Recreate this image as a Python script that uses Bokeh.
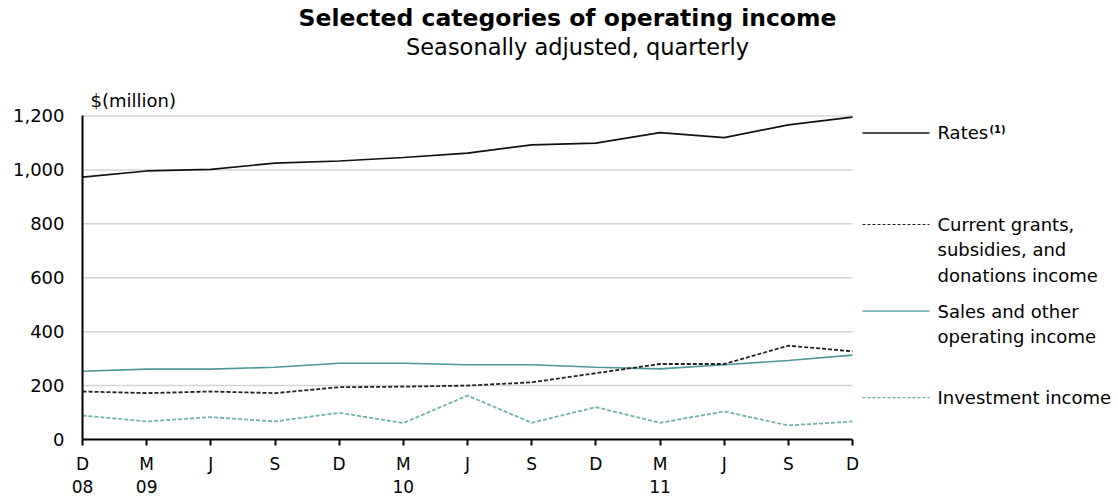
from bokeh.plotting import figure
from bokeh.models import FixedTicker, NumeralTickFormatter, Label, Arrow, Range1d, ColumnDataSource
from bokeh.embed import file_html
from bokeh.resources import INLINE

# ---- data ----
quarters = ["D", "M", "J", "S", "D", "M", "J", "S", "D", "M", "J", "S", "D"]
years = ["08", "09", "", "", "", "10", "", "", "", "11", "", "", ""]
rates = [973, 996, 1002, 1025, 1033, 1046, 1062, 1093, 1099, 1138, 1120, 1167, 1196]
grants = [178, 172, 178, 172, 194, 196, 200, 212, 246, 280, 280, 348, 327]
sales = [253, 261, 261, 268, 283, 283, 277, 277, 268, 262, 277, 293, 313]
investment = [89, 67, 83, 67, 99, 61, 163, 62, 120, 62, 104, 52, 67]
y_ticks = [0, 200, 400, 600, 800, 1000, 1200]

title_text = "Selected categories of operating income"
subtitle_text = "Seasonally adjusted, quarterly"
unit_text = "$(million)"
legend_rates = ["Rates"]
legend_grants = ["Current grants,", "subsidies, and", "donations income"]
legend_sales = ["Sales and other", "operating income"]
legend_invest = ["Investment income"]

FONT = "DejaVu Sans"
TEAL = "#4f9696"
TEAL_LIGHT = "#72b0b0"

idx = list(range(len(quarters)))
x_last = idx[-1]
y_top = y_ticks[-1]
src = ColumnDataSource(dict(x=idx, rates=rates, grants=grants, sales=sales, investment=investment))

# ---- layout (pixels) ----
W, H = 1118, 499
AX_X = 82          # left edge of the plotting area (y axis)
AX_Y = 441         # bottom of the plotting area (x axis)
DATA_W = 770       # pixels covered by the quarters
DATA_H = 325       # pixels covered by 0..1200
PX_PER_X = DATA_W / x_last
PX_PER_Y = DATA_H / y_top
x_end = (W - AX_X) / PX_PER_X
y_end = AX_Y / PX_PER_Y

p = figure(width=W, height=H, output_backend="svg", toolbar_location=None,
           x_range=Range1d(0, x_end), y_range=Range1d(0, y_end),
           min_border_left=AX_X, min_border_right=0,
           min_border_top=0, min_border_bottom=H - AX_Y)
p.outline_line_color = None
p.background_fill_color = "white"
p.border_fill_color = "white"

def dx(xpage):
    return (xpage - AX_X) / PX_PER_X
def dy(ypage):
    return (AX_Y - ypage) / PX_PER_Y

# ---- grid lines (limited to the data area) ----
p.xgrid.grid_line_color = None
p.ygrid.grid_line_color = None
gl = [t for t in y_ticks if t > 0]
p.segment(x0=[0] * len(gl), y0=gl, x1=[x_last] * len(gl), y1=gl, line_color="#d4d4d4", line_width=1.5)

# ---- series ----
p.line("x", "rates", source=src, line_color="#111111", line_width=1.7)
p.line("x", "sales", source=src, line_color=TEAL, line_width=1.6)
p.line("x", "grants", source=src, line_color="#222222", line_width=1.8, line_dash="4 2")
p.line("x", "investment", source=src, line_color=TEAL_LIGHT, line_width=1.8, line_dash="4 2")

# ---- axes ----
xa = p.xaxis[0]
xa.ticker = FixedTicker(ticks=idx)
xa.bounds = (0, x_last)
xa.major_label_overrides = {i: (q + "\n" + y if y else q) for i, (q, y) in enumerate(zip(quarters, years))}
xa.minor_tick_line_color = None
xa.major_tick_in = 0
xa.major_tick_out = 6
xa.major_tick_line_width = 2
xa.axis_line_width = 2
xa.axis_line_color = "black"
xa.major_tick_line_color = "black"
xa.major_label_text_font = FONT
xa.major_label_text_font_size = "17px"
xa.major_label_text_color = "black"
xa.major_label_standoff = 8
xa.major_label_text_line_height = 1.15

ya = p.yaxis[0]
ya.ticker = FixedTicker(ticks=y_ticks)
ya.bounds = (0, y_top)
ya.formatter = NumeralTickFormatter(format="0,0")
ya.minor_tick_line_color = None
ya.major_tick_in = 0
ya.major_tick_out = 0
ya.axis_line_width = 2
ya.axis_line_color = "black"
ya.major_label_text_font = FONT
ya.major_label_text_font_size = "18px"
ya.major_label_text_color = "black"
ya.major_label_standoff = 18

# ---- titles ----
p.add_layout(Label(x=dx(567), y=dy(18), text=title_text, text_align="center", text_baseline="middle",
                   text_font=FONT, text_font_style="bold", text_font_size="23.5px", text_color="black"))
p.add_layout(Label(x=dx(577), y=dy(47), text=subtitle_text, text_align="center", text_baseline="middle",
                   text_font=FONT, text_font_size="22.5px", text_color="black"))
p.add_layout(Label(x=dx(90), y=dy(100), text=unit_text, text_align="left", text_baseline="middle",
                   text_font=FONT, text_font_size="18px", text_color="black"))

# ---- legend ----
def legend_entry(y_line, lines, color, dash, width):
    p.add_layout(Arrow(end=None, x_start=dx(862), y_start=dy(y_line), x_end=dx(929), y_end=dy(y_line),
                       line_color=color, line_width=width, line_dash=dash))
    for k, t in enumerate(lines):
        p.add_layout(Label(x=dx(937), y=dy(y_line + k * 25.5), text=t, text_align="left",
                           text_baseline="middle", text_font=FONT, text_font_size="18px",
                           text_color="black"))

legend_entry(133, legend_rates, "#111111", "solid", 1.5)
legend_entry(225, legend_grants, "#222222", "3 2", 1.2)
legend_entry(312, legend_sales, TEAL, "solid", 1.3)
legend_entry(399, legend_invest, TEAL_LIGHT, "3 2", 1.3)
p.add_layout(Label(x=dx(989), y=dy(124), text="(1)", text_align="left", text_baseline="top",
                   text_font=FONT, text_font_style="bold", text_font_size="10px", text_color="black"))

open("out.html", "w").write(file_html(p, INLINE))
